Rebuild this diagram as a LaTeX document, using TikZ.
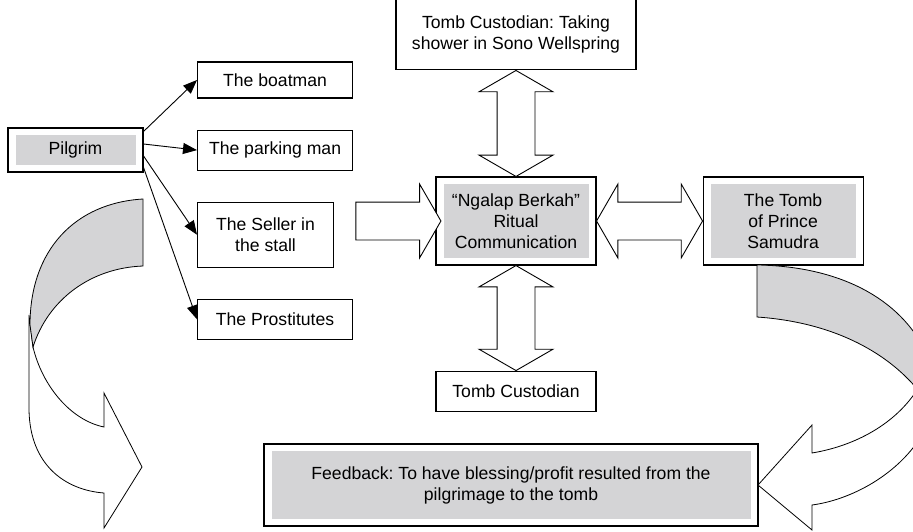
\documentclass[tikz,border=0pt]{standalone}
\usepackage{fontspec}
\setmainfont{Liberation Sans}
\usetikzlibrary{arrows.meta, positioning, shapes.arrows, calc}
\definecolor{boxgray}{RGB}{212,212,214}
\frenchspacing

\begin{document}
\begin{tikzpicture}[
    x=1pt, y=1pt,
    node distance=106pt,
    every node/.style={font=\fontsize{17.6}{21}\selectfont, align=center, inner sep=0pt},
    plainbox/.style={draw, line width=1.1pt, fill=white},
    graybox/.style={draw, line width=1.1pt, fill=white,
        path picture={\fill[boxgray] ([shift={(7.5pt,7pt)}]path picture bounding box.south west)
            rectangle ([shift={(-7.5pt,-7pt)}]path picture bounding box.north east);}},
    link/.style={-{Triangle[length=14pt,width=11pt]}, line width=0.9pt},
    dblarrow/.style={draw, line width=0.9pt, fill=white, double arrow, double arrow tip angle=120,
        inner ysep=18.5pt, double arrow head extend=18pt, minimum width=73pt, minimum height=106pt},
    onearrow/.style={draw, line width=0.9pt, fill=white, single arrow, single arrow tip angle=120,
        inner ysep=18.5pt, single arrow head extend=18pt, minimum width=73pt, minimum height=85pt},
    ribbon/.style={draw, line width=0.8pt},
]
    \useasboundingbox (0,0) rectangle (913,-531);
    \clip (0,0) rectangle (913,-531);

    % Pilgrim and the people around him
    \node[graybox, minimum width=135pt, minimum height=44pt] (pilgrim) at (75.5,-150) {Pilgrim};
    \node[plainbox, minimum width=155pt, minimum height=36pt, anchor=west] (boatman) at (197,-80) {The boatman};
    \node[plainbox, minimum width=155pt, minimum height=40pt, below right=31pt and 0pt of boatman.south west] (parking) {The parking man};
    \node[plainbox, minimum width=136pt, minimum height=65pt, below right=31pt and 0pt of parking.south west] (seller) {The Seller in\\the stall};
    \node[plainbox, minimum width=155pt, minimum height=40pt, below right=31pt and 0pt of seller.south west] (prostitutes) {The Prostitutes};

    % Ritual in the middle
    \node[graybox, minimum width=160pt, minimum height=88pt] (ritual) at (516,-221) {“Ngalap Berkah”\\Ritual\\Communication};
    \node[graybox, minimum width=160pt, minimum height=88pt, right=of ritual] (tomb) {The Tomb\\of Prince\\Samudra};
    \node[plainbox, minimum width=240pt, minimum height=70pt, above=of ritual] (shower) {Tomb Custodian: Taking\\shower in Sono Wellspring};
    \node[plainbox, minimum width=160pt, minimum height=40pt, below=105pt of ritual] (custodian) {Tomb Custodian};
    \node[graybox, minimum width=494pt, minimum height=82pt] (feedback) at (511,-485) {Feedback: To have blessing/profit resulted from the\\pilgrimage to the tomb};

    % Thin arrows
    \draw[link] ([yshift=-4pt]pilgrim.north east) -- (boatman.west);
    \draw[link] ([yshift=6pt]pilgrim.east) -- (parking.west);
    \draw[link] ([yshift=-6pt]pilgrim.east) -- (seller.west);
    \draw[link] ([yshift=5pt]pilgrim.south east) -- (prostitutes.west);

    % Block arrows
    \node[onearrow] (toritual) at ($(ritual.west)+(-42.5,0)$) {};
    \node[dblarrow] (ritualtomb) at ($(ritual.east)!.5!(tomb.west)$) {};
    \node[dblarrow, rotate=90] (showerritual) at ($(shower.south)!.5!(ritual.north)$) {};
    \node[dblarrow, rotate=90, minimum height=105pt] (ritualcustodian) at ($(ritual.south)!.5!(custodian.north)$) {};

    % Left turning arrow
    \draw[ribbon, fill=white] (29,-315) -- (29,-410) .. controls (30,-465) and (65,-490) .. (104,-493)
        -- (104,-528) -- (142,-467) -- (104,-393) -- (104,-427)
        .. controls (70,-420) and (42,-385) .. (33,-347) -- cycle;
    \draw[ribbon, fill=boxgray] (143,-199) .. controls (75,-203) and (30,-250) .. (30,-325)
        -- (33,-347) .. controls (48,-300) and (90,-268) .. (143,-266) -- cycle;

    % Right turning arrow
    \draw[ribbon, fill=white] (935,-400) -- (925,-430) .. controls (900,-475) and (850,-500) .. (812,-505)
        -- (812,-530) -- (758,-485) -- (812,-425) -- (812,-453)
        .. controls (860,-445) and (900,-420) .. (920,-385) -- cycle;
    \draw[ribbon, fill=boxgray] (757,-265) .. controls (830,-266) and (895,-292) .. (925,-350)
        -- (935,-400) -- (918,-390) .. controls (885,-350) and (830,-322) .. (757,-317) -- cycle;
\end{tikzpicture}
\end{document}
